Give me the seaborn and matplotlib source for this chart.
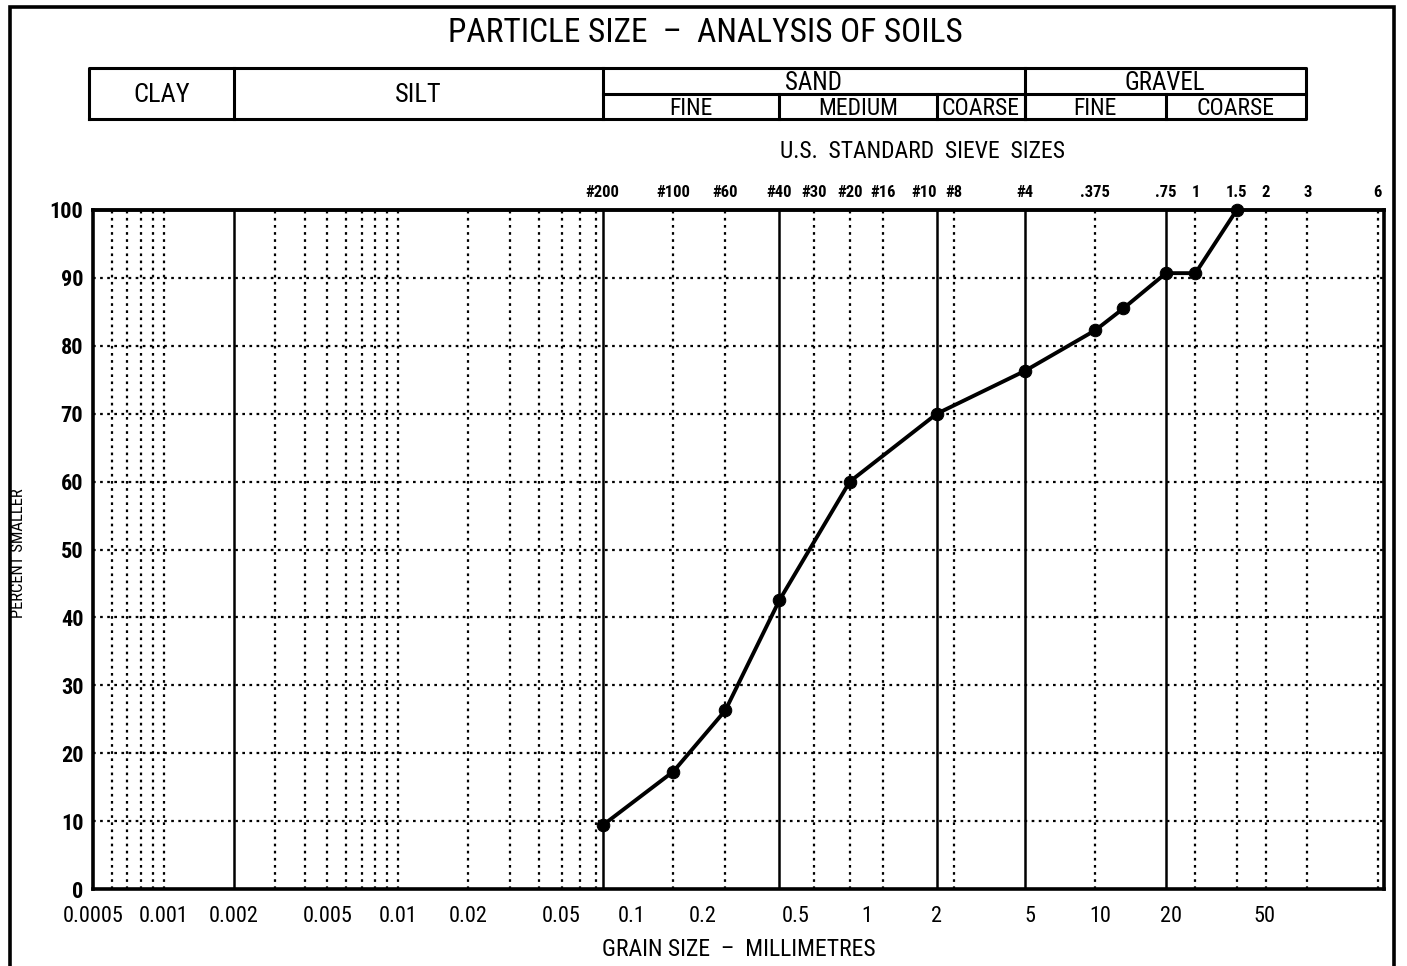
import matplotlib
matplotlib.use("Agg")
import os
import matplotlib.pyplot as plt
from matplotlib import font_manager
from matplotlib.font_manager import FontProperties
from matplotlib.ticker import FixedLocator, NullLocator
from matplotlib.patches import Rectangle
import seaborn as sns
import pandas as pd

# ---------------- data ----------------
grain_mm = [0.075, 0.15, 0.25, 0.425, 0.85, 2.0, 4.75, 9.5, 12.5, 19.0, 25.4, 38.1]
percent_smaller = [9.4, 17.3, 26.3, 42.5, 60.0, 70.0, 76.3, 82.3, 85.5, 90.7, 90.7, 100.0]

x_tick_values = [0.0005, 0.001, 0.002, 0.005, 0.01, 0.02, 0.05, 0.1, 0.2, 0.5, 1, 2, 5, 10, 20, 50]
x_tick_labels = ["0.0005", "0.001", "0.002", "0.005", "0.01", "0.02", "0.05", "0.1", "0.2",
                 "0.5", "1", "2", "5", "10", "20", "50"]
y_tick_values = [0, 10, 20, 30, 40, 50, 60, 70, 80, 90, 100]

sieve_mm = [0.075, 0.15, 0.25, 0.425, 0.6, 0.85, 1.18, 2.0, 2.36, 4.75, 9.5, 19.0, 25.4, 38.1, 50.8, 76.2, 152.4]
sieve_labels = ["#200", "#100", "#60", "#40", "#30", "#20", "#16", "#10", "#8", "#4",
                ".375", ".75", "1", "1.5", "2", "3", "6"]
boundary_mm = [0.002, 0.075, 0.425, 2.0, 4.75, 19.0]
clay_minor_mm = [0.0006, 0.0007, 0.0008, 0.0009, 0.001]
silt_minor_mm = [0.003, 0.004, 0.005, 0.006, 0.007, 0.008, 0.009, 0.01,
                 0.02, 0.03, 0.04, 0.05, 0.06, 0.07]
h_grid = [10, 20, 30, 40, 50, 60, 70, 80, 90]

class_edges = [0.00048, 0.002, 0.075, 4.75, 75.0]
class_names = ["CLAY", "SILT", "SAND", "GRAVEL"]
sub_edges = [0.075, 0.425, 2.0, 4.75, 19.0, 75.0]
sub_names = ["FINE", "MEDIUM", "COARSE", "FINE", "COARSE"]

# ---------------- style ----------------
sns.set_style("white")
plt.rcParams["font.family"] = ["DejaVu Sans"]
plt.rcParams["text.color"] = "black"
plt.rcParams["axes.labelcolor"] = "black"

# look for a condensed / narrow face (regular and bold)
pref = ["liberationsansnarrow", "robotocondensed", "dejavusanscondensed", "notosans-condensed",
        "opensans-condensed", "opensanscondensed", "notosanscondensed"]
files = [f.fname for f in font_manager.fontManager.ttflist]


def pick(bold):
    for p in pref:
        for fn in files:
            b = os.path.basename(fn).lower().replace("_", "").replace(" ", "")
            if not b.startswith(p):
                continue
            if "italic" in b or "oblique" in b or "light" in b or "thin" in b \
                    or "semi" in b or "extra" in b or "medium" in b or "black" in b:
                continue
            if ("bold" in b) == bold:
                return fn
    return None


reg_file, bold_file = pick(False), pick(True)


def fp(size, bold=False):
    f = bold_file if bold else reg_file
    if f is not None:
        return FontProperties(fname=f, size=size)
    return FontProperties(family="DejaVu Sans", size=size * 0.85,
                          weight="bold" if bold else "normal")


W, H = 1407, 966
fig = plt.figure(figsize=(W / 100, H / 100), dpi=100)
L, R, T, B = 93 / W, 1384 / W, 1 - 210 / H, 1 - 889 / H
ax = fig.add_axes([L, B, R - L, T - B])

df = pd.DataFrame({"mm": grain_mm, "pct": percent_smaller})
ax.set_xscale("log")
xlim = (0.0005, 162)
ax.set_xlim(*xlim)
ax.set_ylim(0, 100)

dot = (0, (1.2, 2.0))
for v in h_grid:
    ax.axhline(v, color="black", lw=1.6, ls=dot, zorder=1)
for v in clay_minor_mm + silt_minor_mm:
    ax.axvline(v, color="black", lw=1.6, ls=dot, zorder=1)
for v in sieve_mm:
    if v not in boundary_mm:
        ax.axvline(v, color="black", lw=1.6, ls=dot, zorder=1)
for v in boundary_mm:
    ax.axvline(v, color="black", lw=1.8, zorder=2)

sns.lineplot(data=df, x="mm", y="pct", ax=ax, color="black", lw=2.8,
             marker="o", markersize=9, markeredgecolor="black", zorder=5, clip_on=False)

ax.xaxis.set_major_locator(FixedLocator(x_tick_values))
ax.xaxis.set_minor_locator(NullLocator())
ax.set_xticklabels(x_tick_labels)
ax.set_yticks(y_tick_values)
ax.tick_params(axis="x", direction="out", length=10, width=1.5, pad=2, colors="black")
ax.tick_params(axis="y", direction="out", length=5, width=1.5, pad=2, colors="black")
for lab in ax.get_xticklabels():
    lab.set_fontproperties(fp(16))
for lab in ax.get_yticklabels():
    lab.set_fontproperties(fp(16, bold=True))
for s in ax.spines.values():
    s.set_linewidth(2.6)
    s.set_color("black")

ax.set_xlabel("GRAIN SIZE  –  MILLIMETRES", fontproperties=fp(17))
ax.xaxis.set_label_coords(0.5, -0.072)
ax.set_ylabel("PERCENT SMALLER", fontproperties=fp(12))
ax.yaxis.set_label_coords(-0.052, 0.495)

# top sieve axis
sec = ax.secondary_xaxis("top")
sec.xaxis.set_major_locator(FixedLocator(sieve_mm))
sec.xaxis.set_minor_locator(NullLocator())
sec.set_xticklabels(sieve_labels)
sec.tick_params(length=0, pad=7, colors="black")
for lab in sec.get_xticklabels():
    lab.set_fontproperties(fp(12, bold=True))
    if lab.get_text() == "#10":
        lab.set_horizontalalignment("right")
sec.spines["top"].set_linewidth(2.6)

fig.text(923 / W, 1 - 151 / H, "U.S.  STANDARD  SIEVE  SIZES", ha="center", va="center",
         fontproperties=fp(17))
fig.text(705 / W, 1 - 33 / H, "PARTICLE SIZE  –  ANALYSIS OF SOILS", ha="center", va="center",
         fontproperties=fp(24))

# classification table
axt = fig.add_axes([L, 1 - 119 / H, R - L, 51 / H])
axt.set_xscale("log")
axt.set_xlim(*xlim)
axt.set_ylim(0, 2)
axt.axis("off")
lk = dict(color="black", lw=2.2, clip_on=False, solid_capstyle="projecting")
x0, x1 = class_edges[0], class_edges[-1]
axt.plot([x0, x1, x1, x0, x0], [0, 0, 2, 2, 0], **lk)
for e in class_edges[1:-1]:
    axt.plot([e, e], [0, 2], **lk)
axt.plot([sub_edges[0], sub_edges[-1]], [1, 1], **lk)
for e in sub_edges[1:-1]:
    axt.plot([e, e], [0, 1], **lk)
for i, nm in enumerate(class_names):
    xc = (class_edges[i] * class_edges[i + 1]) ** 0.5
    yc = 0.95 if i < 2 else 1.4
    axt.text(xc, yc, nm, ha="center", va="center", fontproperties=fp(19 if i < 2 else 18))
for i, nm in enumerate(sub_names):
    xc = (sub_edges[i] * sub_edges[i + 1]) ** 0.5
    axt.text(xc, 0.4, nm, ha="center", va="center", fontproperties=fp(17))

# outer frame
fig.patches.append(Rectangle((10 / W, -0.02), (1394 - 10) / W, 1.02 - 7 / H,
                             transform=fig.transFigure, fill=False, lw=2.6,
                             edgecolor="black", figure=fig))

fig.savefig("out.png", dpi=100, facecolor="white")
